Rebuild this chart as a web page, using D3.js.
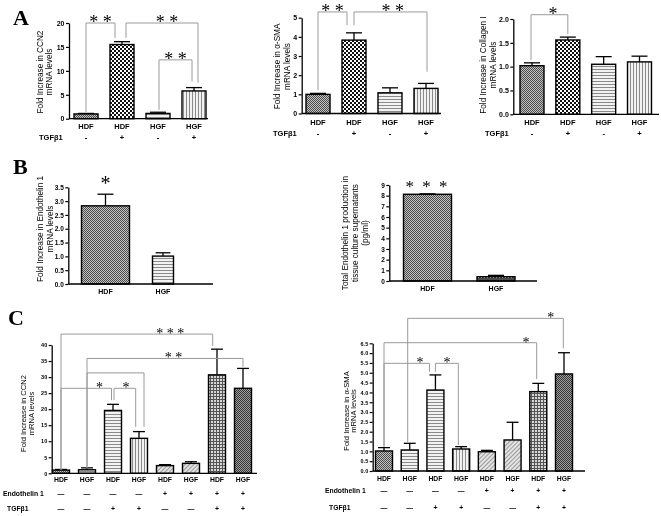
<!DOCTYPE html>
<html><head><meta charset="utf-8">
<script src="https://cdn.jsdelivr.net/npm/d3@7"></script>
<style>body{margin:0;background:#fff}svg{display:block;filter:grayscale(100%)}</style>
</head><body>
<svg id="fig" width="661" height="516"></svg>
<script>
// ---------------- DATA ----------------
const catsA = ["HDF","HDF","HGF","HGF"];
const tgfA = ["-","+","-","+"];
const ticksA1 = [0,5,10,15,20];
const ccn2A = [1.0,15.5,1.1,5.8];
const ccn2AErr = [0.1,0.6,0.25,0.7];
const ticksA2 = [0,1,2,3,4,5];
const smaA = [1.0,3.83,1.08,1.31];
const smaAErr = [0.05,0.38,0.26,0.26];
const ticksA3 = [0,0.5,1.0,1.5,2.0];
const colA = [1.02,1.56,1.05,1.10];
const colAErr = [0.06,0.06,0.16,0.12];

const catsB = ["HDF","HGF"];
const ticksB1 = [0,0.5,1.0,1.5,2.0,2.5,3.0,3.5];
const et1Mrna = [2.83,1.01];
const et1MrnaErr = [0.42,0.12];
const ticksB2 = [0,1,2,3,4,5,6,7,8,9];
const et1Prot = [8.13,0.40];
const et1ProtErr = [0.04,0.13];

const catsC = ["HDF","HGF","HDF","HGF","HDF","HGF","HDF","HGF"];
const et1C = ["—","—","—","—","+","+","+","+"];
const tgfC = ["—","—","+","+","—","—","+","+"];
const ticksC1 = [0,5,10,15,20,25,30,35,40];
const ccn2C = [1.0,1.1,19.6,10.9,2.4,3.1,30.7,26.5];
const ccn2CErr = [0.2,0.6,1.9,2.1,0.3,0.5,8.0,6.2];
const ticksC2 = [0,0.5,1.0,1.5,2.0,2.5,3.0,3.5,4.0,4.5,5.0,5.5,6.0,6.5];
const smaC = [1.02,1.07,4.12,1.12,0.98,1.58,4.04,4.94];
const smaCErr = [0.17,0.34,0.77,0.12,0.07,0.90,0.42,1.08];

// significance: [fromBar, toBar, bracketLevel, fromEnd, toEnd, label]
const sigA1 = [[0,1,20.0,1.42,16.9,"* *"],[1,3,20.0,16.9,7.5,"* *"],[2,3,12.3,1.84,7.77,"* *"]];
const sigA2 = [[0,1,5.30,1.22,4.61,"* *"],[1,3,5.30,4.61,2.18,"* *"]];
const sigA3 = [[0,1,2.09,1.14,1.68,"*"]];
const sigB1 = [[0,3.67,"*"]];
const sigB2 = [[0,9.0,"* * *"]];
const sigC1 = [[0,6,43.4,1.0,39.7,"* * *"],[1,7,35.8,1.56,33.2,"* *"],[1,3,31.3,1.56,14.5,""],[0,2,26.5,1.0,22.8,"*"],[2,3,26.5,22.8,14.5,"*"]];
const sigC2 = [[1,7,7.77,1.46,6.24,"*"],[0,6,6.53,1.24,4.68,"*"],[0,2,5.48,1.24,5.05,"*"],[2,3,5.48,5.05,1.32,"*"]];

// ---------------- STYLE ----------------
const SANS = "'Liberation Sans', Arial, sans-serif";
const STAR = "'Liberation Serif', 'Times New Roman', serif";
const svg = d3.select("#fig");
const defs = svg.append("defs");
function pat(id, w, h, draw, tr){
  const p = defs.append("pattern").attr("id",id).attr("patternUnits","userSpaceOnUse")
    .attr("width",w).attr("height",h);
  if (tr) p.attr("patternTransform",tr);
  draw(p);
}
function rect(p,x,y,w,h,c){p.append("rect").attr("x",x).attr("y",y).attr("width",w).attr("height",h).attr("fill",c);}
pat("fine",2,2,p=>{rect(p,0,0,2,2,"#c4c4c4");rect(p,0,0,1,1,"#4a4a4a");rect(p,1,1,1,1,"#4a4a4a");});
pat("fineDark",2,2,p=>{rect(p,0,0,2,2,"#a0a0a0");rect(p,0,0,1,1,"#333");rect(p,1,1,1,1,"#333");});
pat("coarse",4,4,p=>{rect(p,0,0,4,4,"#fff");rect(p,0,0,2,2,"#111");rect(p,2,2,2,2,"#111");});
pat("hl",3,3,p=>{rect(p,0,0,3,3,"#f2f2f2");rect(p,0,0,3,1,"#8a8a8a");});
pat("vl",3,3,p=>{rect(p,0,0,3,3,"#f2f2f2");rect(p,0,0,1,3,"#8a8a8a");});
pat("diag",3,3,p=>{rect(p,0,0,3,3,"#e4e4e4");rect(p,0,0,1,3,"#9a9a9a");},"rotate(45)");
pat("grid",3,3,p=>{rect(p,0,0,3,3,"#d8d8d8");rect(p,0,0,3,1,"#555");rect(p,0,0,1,3,"#555");});
pat("dots",3,3,p=>{rect(p,0,0,3,3,"#4a4a4a");rect(p,1,1,1,1,"#f4f4f4");});

// ---------------- DRAW ----------------
function panel(o){
  const g = svg.append("g");
  const n = o.vals.length;
  const x = d3.scalePoint().domain(d3.range(n)).range(o.xr);
  const y = d3.scaleLinear().domain([0,d3.max(o.ticks)]).range(o.yr);
  const bw = i => Array.isArray(o.bw) ? o.bw[i] : o.bw;
  g.selectAll("rect.bar").data(o.vals).join("rect").attr("class","bar")
    .attr("x",(d,i)=>x(i)-bw(i)/2).attr("y",d=>y(d))
    .attr("width",(d,i)=>bw(i)).attr("height",d=>y(0)-y(d))
    .attr("fill",(d,i)=>`url(#${o.pats[i]})`).attr("stroke","#000").attr("stroke-width",1.4);
  const eg = g.append("g").attr("stroke","#000").attr("stroke-width",1.3);
  o.vals.forEach((v,i)=>{
    const top = y(v+o.errs[i]);
    eg.append("line").attr("x1",x(i)).attr("x2",x(i)).attr("y1",y(v)).attr("y2",top);
    const cw = bw(i)*0.35;
    eg.append("line").attr("x1",x(i)-Math.min(cw,8)).attr("x2",x(i)+Math.min(cw,8)).attr("y1",top).attr("y2",top);
  });
  const ax = g.append("g").attr("transform",`translate(${o.ax},0)`)
    .call(d3.axisLeft(y).tickValues(o.ticks).tickFormat(o.fmt).tickSize(3).tickSizeOuter(0).tickPadding(1.5));
  ax.select(".domain").attr("stroke-width",1.3);
  ax.selectAll(".tick line").attr("stroke-width",1.2);
  ax.selectAll("text").attr("font-family",SANS).attr("font-size",o.tfs).attr("font-weight","bold").attr("fill","#000");
  g.append("line").attr("x1",o.ax).attr("x2",o.axEnd).attr("y1",y(0)).attr("y2",y(0))
    .attr("stroke","#000").attr("stroke-width",1.3);
  g.selectAll("text.xl").data(o.cats).join("text").attr("class","xl")
    .attr("x",(d,i)=>x(i)).attr("y",o.xlY).attr("text-anchor","middle")
    .attr("font-family",SANS).attr("font-size",o.xfs).attr("font-weight","bold").text(d=>d);
  (o.rows||[]).forEach(r=>{
    g.append("text").attr("x",r.lx).attr("y",r.y).attr("font-family",SANS).attr("font-size",o.xfs)
      .attr("font-weight","bold").text(r.label);
    g.selectAll(null).data(r.vals).join("text")
      .attr("x",(d,i)=>x(i)).attr("y",r.y).attr("text-anchor","middle")
      .attr("font-family",SANS).attr("font-size",o.xfs).attr("font-weight","bold").text(d=>d);
  });
  o.title.forEach((t,k)=>{
    g.append("text").attr("transform",`translate(${o.titleX[k]+o.titfs*0.36},${o.titleY}) rotate(-90)`)
      .attr("text-anchor","middle").attr("font-family",SANS).attr("font-size",o.titfs).text(t);
  });
  (o.sig||[]).forEach((s,k)=>{
    const st = o.sigStyle[k];
    const xa = x(s[0])+st[0], xb = x(s[1])+st[1], yl = y(s[2]);
    g.append("path").attr("d",`M${xa},${y(s[3])}V${yl}H${xb}V${y(s[4])}`)
      .attr("fill","none").attr("stroke","#9a9a9a").attr("stroke-width",1);
    if (s[5]) g.append("text").attr("x",xa+st[2]*(xb-xa)).attr("y",yl+o.starDy)
      .attr("text-anchor","middle").attr("font-family",STAR).attr("xml:space","preserve")
      .attr("font-size",o.sfs).attr("fill","#000").text(s[5]);
  });
  (o.barSig||[]).forEach(s=>{
    g.append("text").attr("x",x(s[0])).attr("y",y(s[1])+o.starDy)
      .attr("text-anchor","middle").attr("font-family",STAR)
      .attr("font-size",o.sfs).attr("fill","#000")
      .attr("letter-spacing",o.sls||0).text(s[2]);
  });
}

const patA = ["fine","coarse","hl","vl"];
const patC = ["fine","hl","hl","vl","diag","diag","grid","fineDark"];
const fmt0 = d3.format("d"), fmt1 = d3.format(".1f");

panel({vals:ccn2A,errs:ccn2AErr,cats:catsA,pats:patA,xr:[86,194],bw:24,ticks:ticksA1,fmt:fmt0,
  yr:[118.7,23],ax:69,axEnd:208,tfs:7,xfs:7.5,xlY:128.5,
  rows:[{label:"TGFβ1",vals:tgfA,y:139.5,lx:39}],
  title:["Fold Increase in CCN2","mRNA levels"],titleX:[40,49],titleY:72,titfs:8.2,
  sig:sigA1,sigStyle:[[0,-7,0.5],[4,4,0.57],[1,-2,0.5]],starDy:5,sfs:18});
panel({vals:smaA,errs:smaAErr,cats:catsA,pats:patA,xr:[318,426],bw:24,ticks:ticksA2,fmt:fmt0,
  yr:[113.5,17.7],ax:301.7,axEnd:441,tfs:7,xfs:7.5,xlY:124.5,
  rows:[{label:"TGFβ1",vals:tgfA,y:135.5,lx:273}],
  title:["Fold Increase in α-SMA","mRNA levels"],titleX:[277,287.5],titleY:66.5,titfs:8.2,
  sig:sigA2,sigStyle:[[0,-7,0.5],[0,1,0.53]],starDy:5,sfs:18});
panel({vals:colA,errs:colAErr,cats:catsA,pats:patA,xr:[532,639.5],bw:24,ticks:ticksA3,fmt:fmt1,
  yr:[114.3,19],ax:513.3,axEnd:659,tfs:7,xfs:7.5,xlY:124.5,
  rows:[{label:"TGFβ1",vals:tgfA,y:135.5,lx:485}],
  title:["Fold Increase in Collagen I","mRNA levels"],titleX:[483.3,493.3],titleY:65,titfs:8.2,
  sig:sigA3,sigStyle:[[-1,0,0.6]],starDy:5,sfs:18});

panel({vals:et1Mrna,errs:et1MrnaErr,cats:catsB,pats:["fine","hl"],xr:[105.5,163],bw:[48,21],ticks:ticksB1,fmt:fmt1,
  yr:[284,187.3],ax:68.3,axEnd:213,tfs:6.5,xfs:7,xlY:293.5,
  title:["Fold Increase in Endothelin 1","mRNA levels"],titleX:[40,50],titleY:229,titfs:8.2,
  barSig:sigB1,starDy:7,sfs:20});
panel({vals:et1Prot,errs:et1ProtErr,cats:catsB,pats:["fine","dots"],xr:[427.5,496],bw:[48,38],ticks:ticksB2,fmt:fmt0,
  yr:[281,185],ax:389.3,axEnd:537,tfs:6.5,xfs:7,xlY:291,
  title:["Total Endothelin 1 production in","tissue culture supernatants","(pg/ml)"],titleX:[345,355,365],titleY:233,titfs:8.2,
  barSig:sigB2,starDy:7,sfs:17,sls:2});

panel({vals:ccn2C,errs:ccn2CErr,cats:catsC,pats:patC,xr:[61,243],bw:17,ticks:ticksC1,fmt:fmt0,
  yr:[473.3,345],ax:51.7,axEnd:257,tfs:5.5,xfs:6.8,xlY:481.5,
  rows:[{label:"Endothelin 1",vals:et1C,y:495.5,lx:3},{label:"TGFβ1",vals:tgfC,y:511,lx:7}],
  title:["Fold Increase in CCN2","mRNA levels"],titleX:[23.5,31.7],titleY:413.5,titfs:7.6,
  sig:sigC1,sigStyle:[[0,-4.3,0.72],[0,0,0.555],[0,5,0.5],[0,-1.5,0.76],[1,-3.3,0.55]],starDy:4,sfs:14});
panel({vals:smaC,errs:smaCErr,cats:catsC,pats:patC,xr:[384,564],bw:17,ticks:ticksC2,fmt:fmt1,
  yr:[471,343.3],ax:372.7,axEnd:585,tfs:5.5,xfs:6.8,xlY:481,
  rows:[{label:"Endothelin 1",vals:et1C,y:492.5,lx:325},{label:"TGFβ1",vals:tgfC,y:510,lx:329}],
  title:["Fold Increase in α-SMA","mRNA levels"],titleX:[346,353.3],titleY:411,titfs:7.6,
  sig:sigC2,sigStyle:[[-2,-0.7,0.92],[0,-1.6,0.93],[0,-6,0.79],[0,-2.8,0.5]],starDy:4,sfs:14});

[["A",13,25],["B",13,174],["C",8,325]].forEach(([t,x,yy])=>{
  svg.append("text").attr("x",x).attr("y",yy).attr("font-family","'Liberation Serif', 'Times New Roman', serif")
    .attr("font-weight","bold").attr("font-size",22).text(t);
});
</script>
</body></html>
